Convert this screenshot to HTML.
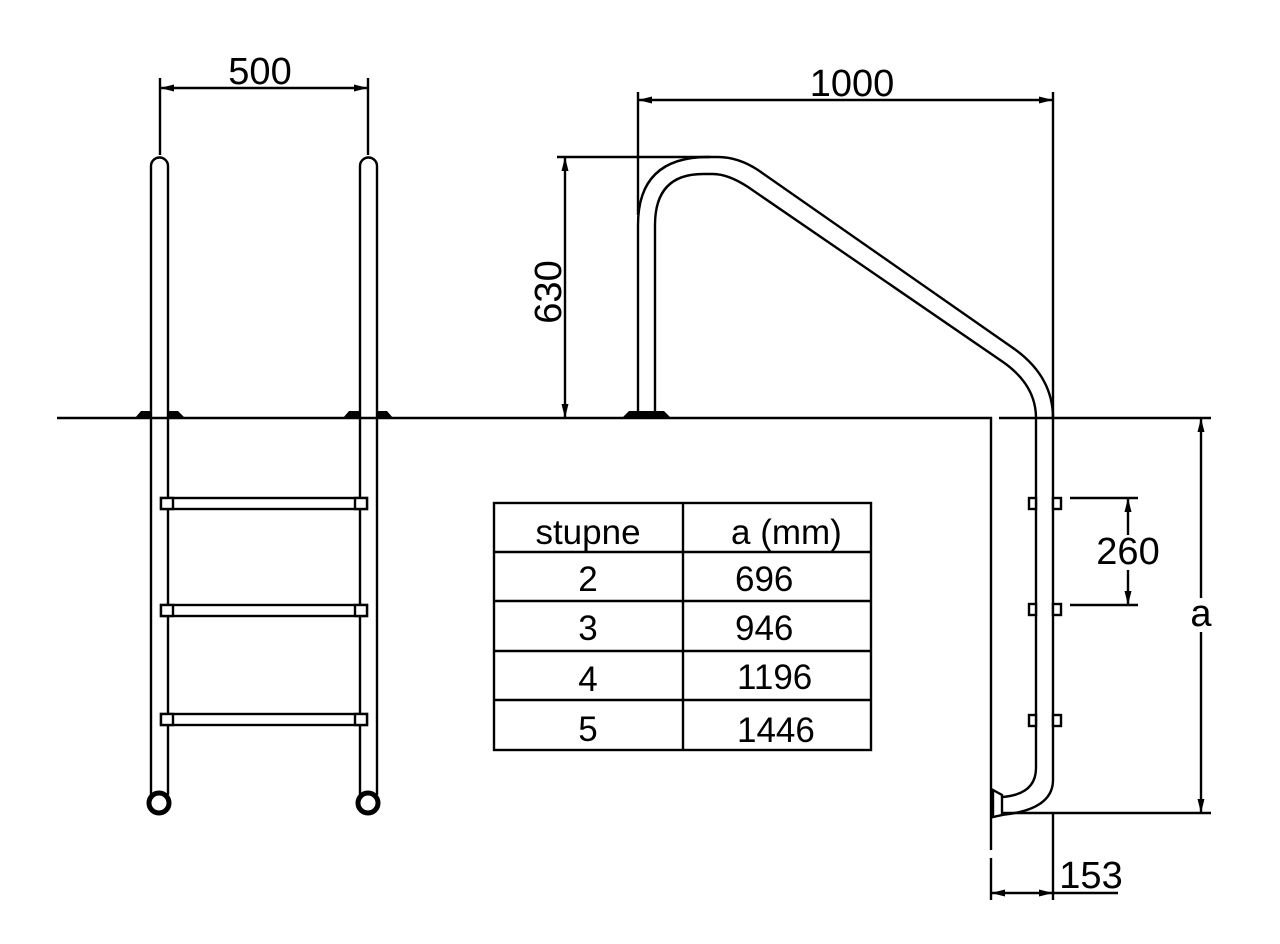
<!DOCTYPE html>
<html><head><meta charset="utf-8"><style>html,body{margin:0;padding:0;background:#fff}svg{display:block}</style></head><body>
<svg width="1280" height="944" viewBox="0 0 1280 944" xmlns="http://www.w3.org/2000/svg" font-family="Liberation Sans, Arial, sans-serif">
<defs>
<marker id="ar" viewBox="0 0 14 10" refX="14" refY="5" markerWidth="16" markerHeight="10" markerUnits="userSpaceOnUse" orient="auto-start-reverse"><path d="M0,1.5 L14,5 L0,8.5 Z" fill="#000"/></marker>
</defs>
<g stroke="#000" stroke-width="2.4" fill="none">
<!-- ground -->
<path d="M57,418 H991 V850"/>
<path d="M991,858 V900"/>
<path d="M999,418 H1211"/>
<!-- left ladder rails -->
<path d="M151,795 V166 A8.5,8.5 0 0 1 168,166 V795"/>
<path d="M360,795 V166 A8.5,8.5 0 0 1 377,166 V795"/>
<circle cx="159" cy="803" r="10" stroke-width="5"/>
<circle cx="368" cy="803" r="10" stroke-width="5"/>
<!-- rungs -->
<g fill="#fff">
<rect x="161" y="498" width="206" height="11"/><rect x="161" y="498" width="12" height="11"/><rect x="355" y="498" width="12" height="11"/>
<rect x="161" y="605" width="206" height="11"/><rect x="161" y="605" width="12" height="11"/><rect x="355" y="605" width="12" height="11"/>
<rect x="161" y="714" width="206" height="11"/><rect x="161" y="714" width="12" height="11"/><rect x="355" y="714" width="12" height="11"/>
</g>
<!-- handrail -->
<path d="M638,411 V225 Q638,157 708,157 L718,157 Q738,157 758,170 L1013,348 Q1053,376 1053,418 V780 Q1053,810 1001,815"/>
<path d="M655,411 V225 Q655,174 703,174 L713,174 Q728,174 748,187 L1003,362 Q1036,385 1036,418 V768 Q1036,794 1003,797"/>
<path d="M993,790 L1002,795 V815 L993,817 Z" fill="#fff"/>
<!-- step brackets -->
<g fill="#fff">
<rect x="1029" y="498" width="7" height="11"/><rect x="1053" y="498" width="8" height="11"/>
<rect x="1029" y="604" width="7" height="11"/><rect x="1053" y="604" width="8" height="11"/>
<rect x="1029" y="715" width="7" height="11"/><rect x="1053" y="715" width="8" height="11"/>
</g>
<!-- dimensions -->
<path d="M160,78 V155 M368,78 V155"/>
<path d="M160,88 H368" marker-start="url(#ar)" marker-end="url(#ar)"/>
<path d="M638,92 V215 M1053,92 V418 M1053,813 V900"/>
<path d="M638,100 H1053" marker-start="url(#ar)" marker-end="url(#ar)"/>
<path d="M557,157 H710"/>
<path d="M565,157 V418" marker-start="url(#ar)" marker-end="url(#ar)"/>
<path d="M1070,498 H1138 M1070,605 H1138"/>
<path d="M1128,535 V498" marker-end="url(#ar)"/>
<path d="M1128,570 V605" marker-end="url(#ar)"/>
<path d="M1003,813 H1211"/>
<path d="M1201,598 V418" marker-end="url(#ar)"/>
<path d="M1201,632 V813" marker-end="url(#ar)"/>
<path d="M991,893 H1053" marker-start="url(#ar)" marker-end="url(#ar)"/>
<path d="M1053,893 H1118"/>
<!-- table -->
<rect x="494" y="503" width="377" height="247"/>
<path d="M683,503 V750 M494,552 H871 M494,601 H871 M494,651 H871 M494,700 H871"/>
</g>
<!-- bumps -->
<g fill="#000">
<path d="M135,418 L141,411 H151 V418 Z M168,418 V411 H178 L185,418 Z"/>
<path d="M343,418 L349,411 H360 V418 Z M377,418 V411 H387 L393,418 Z"/>
<path d="M622,418 L629,411 H664 L671,418 Z"/>
</g>
<g font-size="38" fill="#000">
<text x="260" y="84" text-anchor="middle">500</text>
<text x="852" y="96" text-anchor="middle">1000</text>
<text transform="translate(561,292) rotate(-90)" text-anchor="middle">630</text>
<text x="1128" y="564" text-anchor="middle">260</text>
<text x="1201" y="626" text-anchor="middle">a</text>
<text x="1091" y="888" text-anchor="middle">153</text>
</g>
<g font-size="35" fill="#000">
<text x="588" y="544" text-anchor="middle">stupne</text>
<text x="731" y="544">a (mm)</text>
<text x="588" y="591" text-anchor="middle">2</text><text x="735" y="591">696</text>
<text x="588" y="640" text-anchor="middle">3</text><text x="735" y="640">946</text>
<text x="588" y="691" text-anchor="middle">4</text><text x="737" y="689">1196</text>
<text x="588" y="741" text-anchor="middle">5</text><text x="737" y="742">1446</text>
</g>
</svg>
</body></html>
